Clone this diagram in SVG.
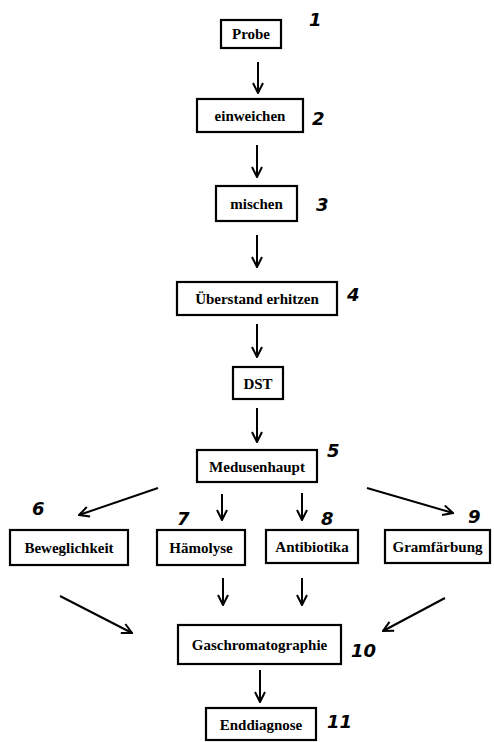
<svg xmlns="http://www.w3.org/2000/svg" width="494" height="742" viewBox="0 0 494 742">
<defs>
<style>
.box{fill:#fff;stroke:#000;stroke-width:2.2}
.lbl{font-family:"Liberation Serif",serif;font-size:15px;font-weight:bold;text-anchor:middle;fill:#000}
.num{font-family:"DejaVu Sans",sans-serif;font-size:18px;font-weight:bold;font-style:italic;fill:#000}
.con{stroke:#000;stroke-width:2;fill:none}
</style>
<marker id="ah" viewBox="0 0 12 12" refX="11" refY="6" markerWidth="12" markerHeight="12" markerUnits="userSpaceOnUse" orient="auto">
<path d="M1,1 L11,6 L1,11" fill="none" stroke="#000" stroke-width="2"/>
</marker>
</defs>
<rect width="494" height="742" fill="#fff"/>
<g id="connectors">
<line class="con" x1="258" y1="62" x2="258" y2="93" marker-end="url(#ah)"/>
<line class="con" x1="257" y1="145" x2="257" y2="177" marker-end="url(#ah)"/>
<line class="con" x1="257" y1="235" x2="257" y2="267" marker-end="url(#ah)"/>
<line class="con" x1="257" y1="324" x2="257" y2="357" marker-end="url(#ah)"/>
<line class="con" x1="257" y1="408" x2="257" y2="442" marker-end="url(#ah)"/>
<line class="con" x1="158" y1="488" x2="79" y2="515" marker-end="url(#ah)"/>
<line class="con" x1="222" y1="494" x2="222" y2="520" marker-end="url(#ah)"/>
<line class="con" x1="302" y1="493" x2="302" y2="520" marker-end="url(#ah)"/>
<line class="con" x1="367" y1="488" x2="453" y2="513" marker-end="url(#ah)"/>
<line class="con" x1="60" y1="596" x2="132" y2="633" marker-end="url(#ah)"/>
<line class="con" x1="223" y1="578" x2="223" y2="605" marker-end="url(#ah)"/>
<line class="con" x1="302" y1="578" x2="302" y2="605" marker-end="url(#ah)"/>
<line class="con" x1="445" y1="598" x2="383" y2="631" marker-end="url(#ah)"/>
<line class="con" x1="260" y1="670" x2="260" y2="702" marker-end="url(#ah)"/>
</g>
<g id="n1"><rect class="box" x="221" y="20" width="60" height="28"/><text class="lbl" x="251" y="39">Probe</text><text class="num" x="309" y="26">1</text></g>
<g id="n2"><rect class="box" x="197" y="99" width="106" height="33"/><text class="lbl" x="250" y="121">einweichen</text><text class="num" x="312" y="125">2</text></g>
<g id="n3"><rect class="box" x="216" y="186" width="81" height="35"/><text class="lbl" x="256.5" y="209">mischen</text><text class="num" x="316" y="211">3</text></g>
<g id="n4"><rect class="box" x="177" y="282" width="160" height="33"/><text class="lbl" x="257" y="304">Überstand erhitzen</text><text class="num" x="347" y="301">4</text></g>
<g id="nDST"><rect class="box" x="233" y="367" width="50" height="32"/><text class="lbl" x="258" y="389">DST</text></g>
<g id="n5"><rect class="box" x="197" y="450" width="120" height="32"/><text class="lbl" x="257" y="472">Medusenhaupt</text><text class="num" x="327" y="457">5</text></g>
<g id="n6"><rect class="box" x="10" y="530" width="118" height="35"/><text class="lbl" x="69" y="553">Beweglichkeit</text><text class="num" x="32" y="515">6</text></g>
<g id="n7"><rect class="box" x="157" y="530" width="88" height="35"/><text class="lbl" x="201" y="553">Hämolyse</text><text class="num" x="177" y="525">7</text></g>
<g id="n8"><rect class="box" x="266" y="530" width="92" height="33"/><text class="lbl" x="312" y="552">Antibiotika</text><text class="num" x="321" y="525">8</text></g>
<g id="n9"><rect class="box" x="385" y="530" width="105" height="33"/><text class="lbl" x="437.5" y="552">Gramfärbung</text><text class="num" x="468" y="523">9</text></g>
<g id="n10"><rect class="box" x="178" y="625" width="163" height="39"/><text class="lbl" x="259.5" y="650">Gaschromatographie</text><text class="num" x="351" y="657">10</text></g>
<g id="n11"><rect class="box" x="206" y="708" width="110" height="32"/><text class="lbl" x="261" y="730">Enddiagnose</text><text class="num" x="327" y="728">11</text></g>
</svg>
